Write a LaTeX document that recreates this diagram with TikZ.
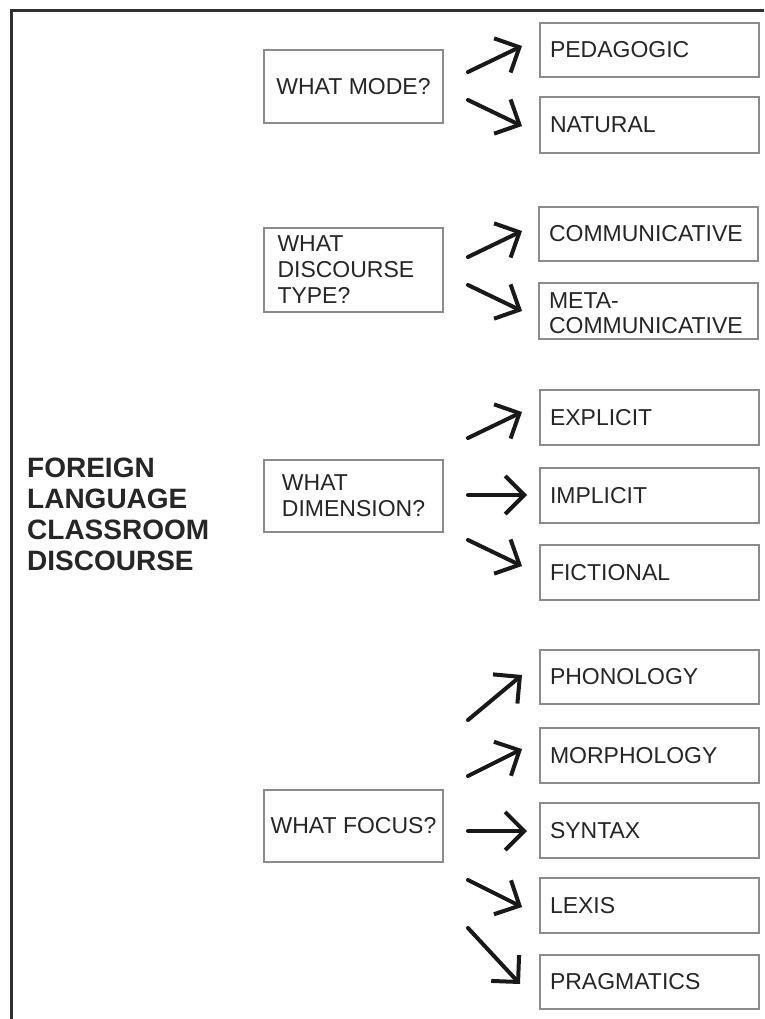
\documentclass[tikz,border=0pt]{standalone}
\usepackage{fontspec}
\setmainfont{Liberation Sans}
\usetikzlibrary{arrows.meta}
\definecolor{boxgray}{HTML}{8C8C8C}
\definecolor{framegray}{HTML}{303030}
\tikzset{
  anybox/.style={draw=boxgray, line width=1.3pt, inner ysep=2pt,
    font=\fontsize{23}{26}\selectfont, text=black!85},
  qbox/.style={anybox, minimum width=179pt, align=left, inner xsep=0pt},
  abox/.style={anybox, minimum width=219pt, text width=199pt, inner xsep=10pt, align=left},
  arr/.style={line width=4pt, black!90, line cap=round,
    -{Straight Barb[length=19pt, width=38pt, line width=4pt]}},
  framelines/.style={framegray, line width=3pt},
}
\begin{document}
\begin{tikzpicture}[x=1pt, y=-1pt]
\fill[white] (0,0) rectangle (764,1019);
\useasboundingbox (0,0) rectangle (764,1019);
\draw[framelines] (11,1019) -- (11,11) -- (764,11);

% title
\node[anchor=west, align=left, font=\fontsize{28}{31}\selectfont\bfseries, text=black!85, inner sep=0pt]
  (title) at (27,514) {FOREIGN\\LANGUAGE\\CLASSROOM\\DISCOURSE};

% question boxes
\node[qbox, minimum height=73pt] (mode) at (353.5,86.5) {WHAT MODE?};
\node[qbox, minimum height=84pt, text width=152pt, inner xsep=13.5pt] (disc) at (353.5,270) {WHAT\\DISCOURSE\\TYPE?};
\node[qbox, minimum height=72pt] (dim) at (353.5,496) {WHAT\\DIMENSION?};
\node[qbox, minimum height=72pt] (focus) at (353.5,826) {WHAT FOCUS?};

% answer boxes
\node[abox, minimum height=54pt] (ped) at (649.5,50) {PEDAGOGIC};
\node[abox, minimum height=56pt] (nat) at (649.5,125) {NATURAL};
\node[abox, minimum height=54pt] (com) at (648.5,234) {COMMUNICATIVE};
\node[abox, minimum height=56pt] (meta) at (648.5,311) {\rule{0pt}{21pt}META-\\[-1pt]COMMUNICATIVE};
\node[abox, minimum height=55pt] (expl) at (649.5,417.5) {EXPLICIT};
\node[abox, minimum height=55pt] (impl) at (649.5,495.5) {IMPLICIT};
\node[abox, minimum height=55pt] (fict) at (649.5,572.5) {FICTIONAL};
\node[abox, minimum height=54pt] (phon) at (649.5,677) {PHONOLOGY};
\node[abox, minimum height=55pt] (morph) at (649.5,755.5) {MORPHOLOGY};
\node[abox, minimum height=55pt] (synt) at (649.5,830.5) {SYNTAX};
\node[abox, minimum height=55pt] (lex) at (649.5,905.5) {LEXIS};
\node[abox, minimum height=54pt] (prag) at (649.5,982) {PRAGMATICS};

% arrow end points
\coordinate (m1s) at (468,72);   \coordinate (m1e) at (522,46);
\coordinate (m2s) at (468,100);  \coordinate (m2e) at (522,126);
\coordinate (d1s) at (468,257);  \coordinate (d1e) at (522,231);
\coordinate (d2s) at (468,285);  \coordinate (d2e) at (522,311);
\coordinate (e1s) at (468,438);  \coordinate (e1e) at (522,412);
\coordinate (e2s) at (468,495);  \coordinate (e2e) at (527,495);
\coordinate (e3s) at (468,540);  \coordinate (e3e) at (522,566);
\coordinate (f1s) at (468,720);  \coordinate (f1e) at (522,675);
\coordinate (f2s) at (468,776);  \coordinate (f2e) at (522,749);
\coordinate (f3s) at (468,831);  \coordinate (f3e) at (527,831);
\coordinate (f4s) at (468,880);  \coordinate (f4e) at (522,907);
\coordinate (f5s) at (468,928);  \coordinate (f5e) at (520,984);

\foreach \a in {m1,m2,d1,d2,e1,e2,e3,f1,f2,f3,f4,f5}
  \draw[arr] (\a s) -- (\a e);
\end{tikzpicture}
\end{document}
